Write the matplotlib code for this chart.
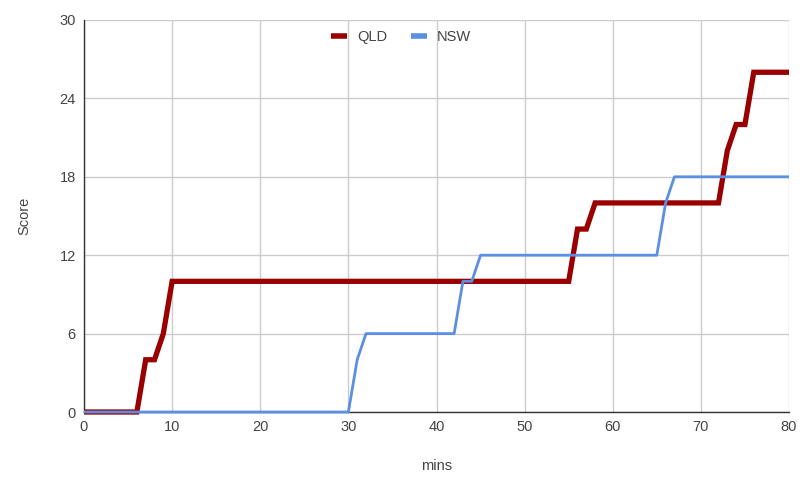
import matplotlib.pyplot as plt

# corner points of each score line (minute, score)
QLD_MINS = [0, 6, 7, 8, 9, 10, 55, 56, 57, 58, 72, 73, 74, 75, 76, 80]
QLD_SCORE = [0, 0, 4, 4, 6, 10, 10, 14, 14, 16, 16, 20, 22, 22, 26, 26]

NSW_MINS = [0, 30, 31, 32, 42, 43, 44, 45, 65, 66, 67, 80]
NSW_SCORE = [0, 0, 4, 6, 6, 10, 10, 12, 12, 16, 18, 18]

X_TICKS = [0, 10, 20, 30, 40, 50, 60, 70, 80]
Y_TICKS = [0, 6, 12, 18, 24, 30]

COL_QLD = "#990000"
COL_NSW = "#5a8fe3"
COL_GRID = "#cccccc"
COL_TEXT = "#444444"

plt.rcParams["font.family"] = ["Liberation Sans", "DejaVu Sans"]

fig = plt.figure(figsize=(8.07, 4.88), dpi=100)
ax = fig.add_axes([84 / 807, 76 / 488, 705 / 807, 392 / 488])

ax.plot(QLD_MINS, QLD_SCORE, color=COL_QLD, linewidth=3.8, label="QLD",
        solid_joinstyle="miter", solid_capstyle="butt", zorder=3, clip_on=False)
ax.plot(NSW_MINS, NSW_SCORE, color=COL_NSW, linewidth=2.0, label="NSW",
        solid_capstyle="butt", zorder=4, clip_on=False)

ax.set_xlim(0, 80)
ax.set_ylim(0, 30)
ax.set_xticks(X_TICKS)
ax.set_yticks(Y_TICKS)
ax.tick_params(length=0, labelsize=10.5, labelcolor=COL_TEXT, pad=6)
ax.tick_params(axis="x", pad=6)
ax.grid(True, color=COL_GRID, linewidth=1.0)
ax.set_axisbelow(True)

for spine in ["top", "right"]:
    ax.spines[spine].set_visible(False)
ax.spines["left"].set_color("#333333")
ax.spines["bottom"].set_color("#333333")
ax.spines["left"].set_linewidth(1.0)
ax.spines["bottom"].set_linewidth(1.0)

ax.set_xlabel("mins", fontsize=10.5, color=COL_TEXT, labelpad=18)
ax.set_ylabel("Score", fontsize=10.5, color=COL_TEXT, labelpad=20)

leg = ax.legend(loc="upper center", bbox_to_anchor=(0.45, 1.0), ncol=2,
                frameon=False, fontsize=10.5, handlelength=1.1,
                columnspacing=1.6, handletextpad=0.7, borderaxespad=0.3)
for line in leg.get_lines():
    line.set_linewidth(4)
for text in leg.get_texts():
    text.set_color(COL_TEXT)

fig.savefig("out.png", dpi=100)
